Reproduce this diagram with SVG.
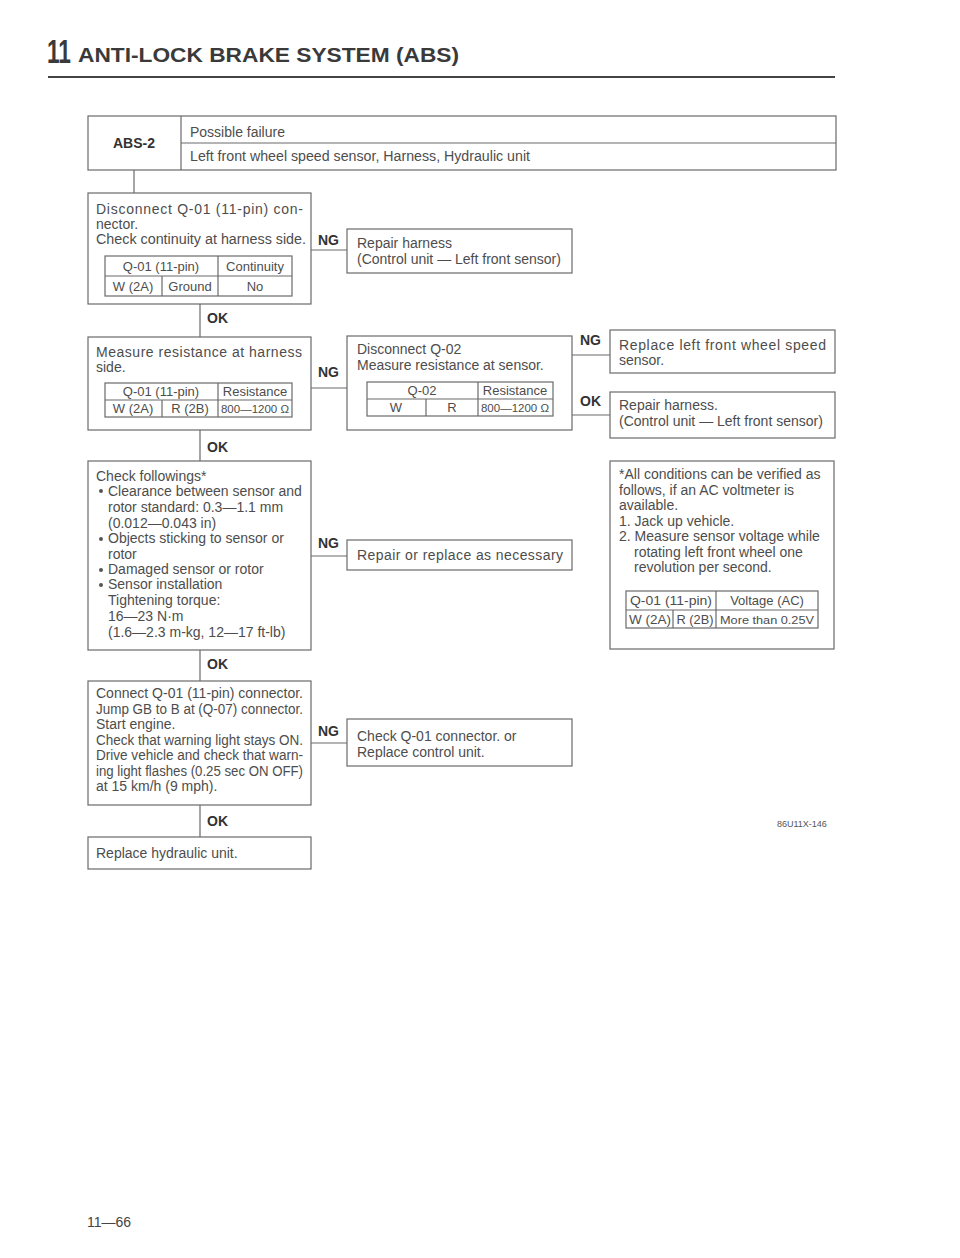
<svg xmlns="http://www.w3.org/2000/svg" width="960" height="1258" viewBox="0 0 960 1258">
<style>
.t{font-family:"Liberation Sans",Arial,sans-serif;font-size:14px;fill:#4d4d4d}
.tb{font-family:"Liberation Sans",Arial,sans-serif;font-size:13px;fill:#4d4d4d}
.s{font-family:"Liberation Sans",Arial,sans-serif;font-size:11.5px;fill:#4d4d4d}
.lb{font-family:"Liberation Sans",Arial,sans-serif;font-size:14px;font-weight:bold;fill:#333}
.bx{fill:none;stroke:#6a6a6a;stroke-width:1.2}
.ln{fill:none;stroke:#6a6a6a;stroke-width:1.2}
.c{text-anchor:middle}
</style>
<rect width="960" height="1258" fill="#fff"/>
<g id="header">
<text x="47" y="63" font-family="Liberation Sans,Arial,sans-serif" font-size="34" font-weight="bold" fill="#3a3a3a" textLength="24" lengthAdjust="spacingAndGlyphs">11</text>
<text x="78" y="62" font-family="Liberation Sans,Arial,sans-serif" font-size="20" font-weight="bold" fill="#3a3a3a" textLength="381" lengthAdjust="spacingAndGlyphs">ANTI-LOCK BRAKE SYSTEM (ABS)</text>
<line x1="48" y1="77" x2="835" y2="77" stroke="#444" stroke-width="2"/>
</g>
<g id="connectors">
<line class="ln" x1="134" y1="170" x2="134" y2="193"/>
<line class="ln" x1="311" y1="250" x2="347" y2="250"/>
<line class="ln" x1="200" y1="304" x2="200" y2="337"/>
<line class="ln" x1="311" y1="388" x2="347" y2="388"/>
<line class="ln" x1="572" y1="355" x2="610" y2="355"/>
<line class="ln" x1="572" y1="415" x2="610" y2="415"/>
<line class="ln" x1="200" y1="430" x2="200" y2="461"/>
<line class="ln" x1="311" y1="556" x2="347" y2="556"/>
<line class="ln" x1="200" y1="650" x2="200" y2="681"/>
<line class="ln" x1="311" y1="743" x2="347" y2="743"/>
<line class="ln" x1="200" y1="805" x2="200" y2="837"/>
<text class="lb" x="318" y="245">NG</text>
<text class="lb" x="207" y="323">OK</text>
<text class="lb" x="318" y="377">NG</text>
<text class="lb" x="580" y="345">NG</text>
<text class="lb" x="580" y="406">OK</text>
<text class="lb" x="207" y="452">OK</text>
<text class="lb" x="318" y="548">NG</text>
<text class="lb" x="207" y="669">OK</text>
<text class="lb" x="318" y="736">NG</text>
<text class="lb" x="207" y="826">OK</text>
</g>
<g id="abs2">
<rect class="bx" x="88" y="116" width="748" height="54"/>
<line class="ln" x1="181" y1="116" x2="181" y2="170"/>
<line class="ln" x1="181" y1="143" x2="836" y2="143"/>
<text class="lb c" x="134" y="148">ABS-2</text>
<text class="t" x="190" y="137">Possible failure</text>
<text class="t" x="190" y="161" textLength="340" lengthAdjust="spacingAndGlyphs">Left front wheel speed sensor, Harness, Hydraulic unit</text>
</g>
<g id="box1">
<rect class="bx" x="88" y="193" width="223" height="111"/>
<text class="t" x="96" y="214" textLength="207" lengthAdjust="spacing">Disconnect Q-01 (11-pin) con-</text>
<text class="t" x="96" y="229">nector.</text>
<text class="t" x="96" y="244" textLength="210" lengthAdjust="spacingAndGlyphs">Check continuity at harness side.</text>
<rect class="bx" x="105" y="256" width="187" height="40"/>
<line class="ln" x1="105" y1="276" x2="292" y2="276"/>
<line class="ln" x1="218" y1="256" x2="218" y2="296"/>
<line class="ln" x1="162" y1="276" x2="162" y2="296"/>
<text class="tb c" x="161" y="271">Q-01 (11-pin)</text>
<text class="tb c" x="255" y="271">Continuity</text>
<text class="tb c" x="133" y="291">W (2A)</text>
<text class="tb c" x="190" y="291">Ground</text>
<text class="tb c" x="255" y="291">No</text>
</g>
<g id="repair1">
<rect class="bx" x="347" y="229" width="225" height="44"/>
<text class="t" x="357" y="248">Repair harness</text>
<text class="t" x="357" y="264">(Control unit — Left front sensor)</text>
</g>
<g id="box2">
<rect class="bx" x="88" y="337" width="223" height="93"/>
<text class="t" x="96" y="357" textLength="206" lengthAdjust="spacing">Measure resistance at harness</text>
<text class="t" x="96" y="372">side.</text>
<rect class="bx" x="105" y="383" width="187" height="34"/>
<line class="ln" x1="105" y1="400" x2="292" y2="400"/>
<line class="ln" x1="218" y1="383" x2="218" y2="417"/>
<line class="ln" x1="162" y1="400" x2="162" y2="417"/>
<text class="tb c" x="161" y="396">Q-01 (11-pin)</text>
<text class="tb c" x="255" y="396">Resistance</text>
<text class="tb c" x="133" y="413">W (2A)</text>
<text class="tb c" x="190" y="413">R (2B)</text>
<text class="s c" x="255" y="413">800—1200 Ω</text>
</g>
<g id="box3">
<rect class="bx" x="347" y="336" width="225" height="94"/>
<text class="t" x="357" y="354">Disconnect Q-02</text>
<text class="t" x="357" y="370">Measure resistance at sensor.</text>
<rect class="bx" x="367" y="382" width="186" height="34"/>
<line class="ln" x1="367" y1="399" x2="553" y2="399"/>
<line class="ln" x1="478" y1="382" x2="478" y2="416"/>
<line class="ln" x1="426" y1="399" x2="426" y2="416"/>
<text class="tb c" x="422" y="395">Q-02</text>
<text class="tb c" x="515" y="395">Resistance</text>
<text class="tb c" x="396" y="412">W</text>
<text class="tb c" x="452" y="412">R</text>
<text class="s c" x="515" y="412">800—1200 Ω</text>
</g>
<g id="replace-sensor">
<rect class="bx" x="610" y="330" width="225" height="43"/>
<text class="t" x="619" y="350" textLength="207" lengthAdjust="spacing">Replace left front wheel speed</text>
<text class="t" x="619" y="365">sensor.</text>
</g>
<g id="repair2">
<rect class="bx" x="610" y="392" width="225" height="46"/>
<text class="t" x="619" y="410">Repair harness.</text>
<text class="t" x="619" y="426">(Control unit — Left front sensor)</text>
</g>
<g id="box4">
<rect class="bx" x="88" y="461" width="223" height="189"/>
<text class="t" x="96" y="481">Check followings*</text>
<circle cx="101" cy="491" r="2" fill="#555"/>
<text class="t" x="108" y="496">Clearance between sensor and</text>
<text class="t" x="108" y="512">rotor standard: 0.3—1.1 mm</text>
<text class="t" x="108" y="528">(0.012—0.043 in)</text>
<circle cx="101" cy="539" r="2" fill="#555"/>
<text class="t" x="108" y="543">Objects sticking to sensor or</text>
<text class="t" x="108" y="559">rotor</text>
<circle cx="101" cy="570" r="2" fill="#555"/>
<text class="t" x="108" y="574">Damaged sensor or rotor</text>
<circle cx="101" cy="585" r="2" fill="#555"/>
<text class="t" x="108" y="589">Sensor installation</text>
<text class="t" x="108" y="605">Tightening torque:</text>
<text class="t" x="108" y="621">16—23 N·m</text>
<text class="t" x="108" y="637">(1.6—2.3 m-kg, 12—17 ft-lb)</text>
</g>
<g id="repair3">
<rect class="bx" x="347" y="540" width="225" height="30"/>
<text class="t" x="357" y="560" textLength="206" lengthAdjust="spacing">Repair or replace as necessary</text>
</g>
<g id="note">
<rect class="bx" x="610" y="461" width="224" height="188"/>
<text class="t" x="619" y="479">*All conditions can be verified as</text>
<text class="t" x="619" y="495">follows, if an AC voltmeter is</text>
<text class="t" x="619" y="510">available.</text>
<text class="t" x="619" y="526">1. Jack up vehicle.</text>
<text class="t" x="619" y="541">2. Measure sensor voltage while</text>
<text class="t" x="634" y="557">rotating left front wheel one</text>
<text class="t" x="634" y="572">revolution per second.</text>
<rect class="bx" x="626" y="591" width="192" height="37"/>
<line class="ln" x1="626" y1="610" x2="818" y2="610"/>
<line class="ln" x1="716" y1="591" x2="716" y2="628"/>
<line class="ln" x1="673" y1="610" x2="673" y2="628"/>
<text class="tb c" x="671" y="605" textLength="82" lengthAdjust="spacingAndGlyphs">Q-01 (11-pin)</text>
<text class="tb c" x="767" y="605">Voltage (AC)</text>
<text class="tb c" x="650" y="624" textLength="42" lengthAdjust="spacingAndGlyphs">W (2A)</text>
<text class="tb c" x="695" y="624" textLength="37" lengthAdjust="spacingAndGlyphs">R (2B)</text>
<text class="s c" x="767" y="624" textLength="94" lengthAdjust="spacingAndGlyphs">More than 0.25V</text>
</g>
<g id="box5">
<rect class="bx" x="88" y="681" width="223" height="124"/>
<text class="t" x="96" y="698" textLength="207" lengthAdjust="spacingAndGlyphs">Connect Q-01 (11-pin) connector.</text>
<text class="t" x="96" y="714" textLength="207" lengthAdjust="spacingAndGlyphs">Jump GB to B at (Q-07) connector.</text>
<text class="t" x="96" y="729">Start engine.</text>
<text class="t" x="96" y="745" textLength="207" lengthAdjust="spacingAndGlyphs">Check that warning light stays ON.</text>
<text class="t" x="96" y="760" textLength="207" lengthAdjust="spacingAndGlyphs">Drive vehicle and check that warn-</text>
<text class="t" x="96" y="776" textLength="207" lengthAdjust="spacingAndGlyphs">ing light flashes (0.25 sec ON OFF)</text>
<text class="t" x="96" y="791">at 15 km/h (9 mph).</text>
</g>
<g id="check-q01">
<rect class="bx" x="347" y="719" width="225" height="47"/>
<text class="t" x="357" y="741">Check Q-01 connector. or</text>
<text class="t" x="357" y="757">Replace control unit.</text>
</g>
<g id="box6">
<rect class="bx" x="88" y="837" width="223" height="32"/>
<text class="t" x="96" y="858">Replace hydraulic unit.</text>
</g>
<text x="777" y="827" font-family="Liberation Sans,Arial,sans-serif" font-size="9" fill="#555">86U11X-146</text>
<text x="87" y="1227" font-family="Liberation Sans,Arial,sans-serif" font-size="14" fill="#444">11—66</text>
</svg>
